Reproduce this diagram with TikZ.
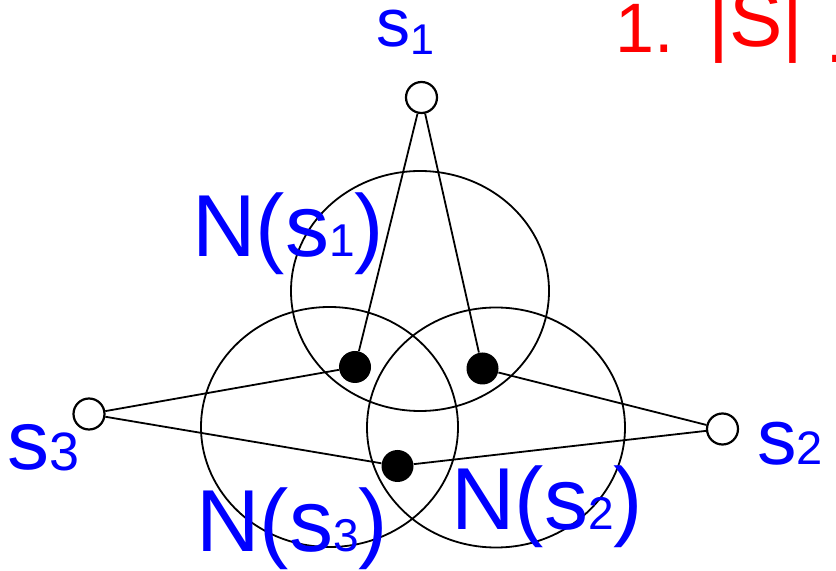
\documentclass[tikz,border=0pt]{standalone}
\usepackage{fontspec}
\setmainfont{Liberation Sans}
\newcommand{\subidx}[3]{\raisebox{#2}{\fontsize{#1}{#1}\selectfont #3}}

\begin{document}
\begin{tikzpicture}[
        x=0.5pt, y=-0.5pt,
        site/.style={
            draw=black,
            fill=white,
            circle,
            line width=1.1pt,
            minimum size=15.5pt,
            inner sep=0pt
        },
        member/.style={
            fill=black,
            circle,
            minimum size=16pt,
            inner sep=0pt
        },
        hood/.style={
            line width=0.9pt,
            draw=black
        },
        link/.style={
            line width=0.9pt,
            draw=black
        },
        lbl/.style={
            text=blue,
            inner sep=0pt,
            anchor=base west
        },
        note/.style={
            text=red,
            inner sep=0pt,
            anchor=base west
        }
    ]
        \useasboundingbox (0,0) rectangle (836,571);

        % neighbourhoods
        \coordinate (c1) at (420,291);
        \coordinate (c3) at (329.5,427);
        \coordinate (c2) at (496,427.5);
        \draw[hood] (c1) ellipse [x radius=64.5pt, y radius=60pt];
        \draw[hood] (c3) ellipse [x radius=64.25pt, y radius=60pt];
        \draw[hood] (c2) ellipse [x radius=64.5pt, y radius=60pt];

        \node[site] (s1) at (421.5,97.5) {};
        \node[site] (s2) at (722.5,429) {};
        \node[site] (s3) at (89,414) {};
        \node[member] (m1) at (355,367) {};
        \node[member] (m2) at (482.5,368.5) {};
        \node[member] (m3) at (397.5,466) {};

        \draw[link] (s1) -- (m1);
        \draw[link] (s1) -- (m2);
        \draw[link] (s3) -- (m1);
        \draw[link] (s3) -- (m3);
        \draw[link] (s2) -- (m2);
        \draw[link] (s2) -- (m3);

        % labels
        \node[lbl, font=\fontsize{34}{36}\selectfont] (s1lbl) at (376,47) {s\subidx{21.5pt}{-4pt}{1}};
        \node[lbl, font=\fontsize{39.5}{41}\selectfont] (s2lbl) at (757,465) {s\subidx{23.5pt}{0pt}{2}};
        \node[lbl, font=\fontsize{42}{44}\selectfont] (s3lbl) at (7,470) {s\subidx{27pt}{-0.5pt}{3}};
        \node[lbl, font=\fontsize{44}{46}\selectfont] (n1lbl) at (192,257) {N(s\subidx{23pt}{0pt}{1})};
        \node[lbl, font=\fontsize{44}{46}\selectfont] (n3lbl) at (196,552) {N(s\subidx{23pt}{0pt}{3})};
        \node[lbl, font=\fontsize{44}{46}\selectfont] (n2lbl) at (451,530) {N(s\subidx{23pt}{0pt}{2})};

        \node[note, font=\fontsize{35}{37}\selectfont] (num) at (615,53) {1.\,};
        \node[note, font=\fontsize{40}{42}\selectfont] (card) at (708,47) {|S|};
        \node[note, font=\fontsize{33.5}{35}\selectfont] (tail) at (826,63) {.};
    \end{tikzpicture}
\end{document}
